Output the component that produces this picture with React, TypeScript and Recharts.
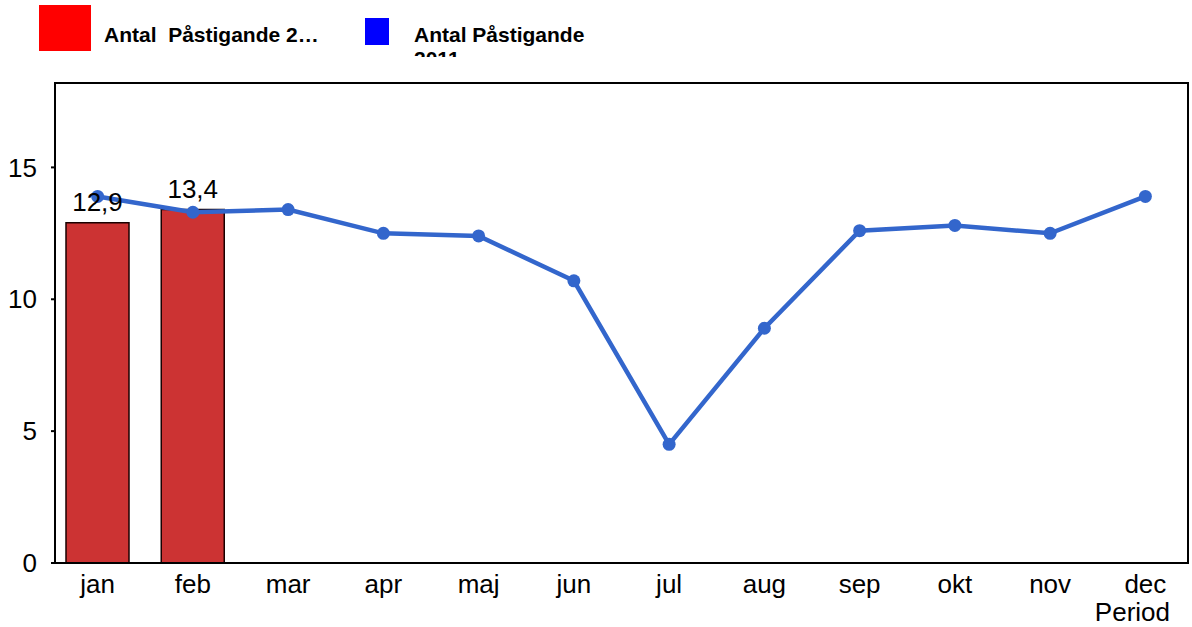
import React from 'react';
import { ComposedChart, Bar, Line, XAxis, YAxis, LabelList, ReferenceArea } from 'recharts';

const months = ['jan', 'feb', 'mar', 'apr', 'maj', 'jun', 'jul', 'aug', 'sep', 'okt', 'nov', 'dec'];
const pastigande2012: (number | null)[] = [12.9, 13.4, null, null, null, null, null, null, null, null, null, null];
const pastigande2011: number[] = [13.9, 13.3, 13.4, 12.5, 12.4, 10.7, 4.5, 8.9, 12.6, 12.8, 12.5, 13.9];
const yTicks = [0, 5, 10, 15];
const yMax = 18.2;
const seriesNames = ['Antal  Påstigande 2…', 'Antal Påstigande 2011'];
const axisTitle = 'Period';

const data = months.map((m, i) => ({ month: m, v2012: pastigande2012[i], v2011: pastigande2011[i] }));

const FONT = '"Liberation Sans", Arial, sans-serif';
const TICK_SIZE = 26;
const fmt = (v: any) => (v == null ? '' : Number(v).toFixed(1).replace('.', ','));

const PeriodLabel = (props: any) => {
  const vb = props.viewBox || {};
  return (
    <text x={vb.x + vb.width - 18} y={vb.y + 58} textAnchor="end" fontSize={TICK_SIZE} fontFamily={FONT} fill="#000">
      {axisTitle}
    </text>
  );
};

export default function App() {
  return (
    <div style={{ position: 'absolute', left: 0, top: 0, width: 1192, height: 627, overflow: 'hidden', background: '#fff', fontFamily: FONT }}>
      {/* Legend */}
      <div style={{ position: 'absolute', left: 39, top: 5, width: 52, height: 46, background: '#FF0000' }} />
      <div style={{ position: 'absolute', left: 104, top: 23, fontSize: 21, fontWeight: 'bold', lineHeight: '23.5px', whiteSpace: 'pre', color: '#000' }}>
        {seriesNames[0]}
      </div>
      <div style={{ position: 'absolute', left: 365, top: 18, width: 24, height: 27, background: '#0000FF' }} />
      <div style={{ position: 'absolute', left: 414, top: 23, width: 185, height: 34, overflow: 'hidden', fontSize: 21, fontWeight: 'bold', lineHeight: '23.5px', color: '#000' }}>
        {seriesNames[1]}
      </div>

      <ComposedChart width={1192} height={627} data={data} margin={{ top: 83, right: 4, bottom: 0, left: 0 }}>
        <XAxis
          dataKey="month"
          height={64}
          padding={{ left: -5, right: -5 }}
          axisLine={{ stroke: '#000', strokeWidth: 2 }}
          tickLine={false}
          tickSize={0}
          tickMargin={12}
          tick={{ fontSize: TICK_SIZE, fill: '#000', fontFamily: FONT }}
          interval={0}
          label={<PeriodLabel />}
        />
        <XAxis xAxisId="top" dataKey="month" orientation="top" height={0} hide />
        <YAxis
          width={55}
          domain={[0, yMax]}
          ticks={yTicks}
          axisLine={{ stroke: '#000', strokeWidth: 2 }}
          tickLine={{ stroke: '#000', strokeWidth: 2 }}
          tickSize={4}
          tickMargin={14}
          tick={{ fontSize: TICK_SIZE, fill: '#000', fontFamily: FONT }}
        />
        <ReferenceArea
          xAxisId="top"
          x1={months[0]}
          x2={months[months.length - 1]}
          y1={0}
          y2={yMax}
          fill="none"
          fillOpacity={0}
          stroke="#000"
          strokeWidth={2}
          ifOverflow="visible"
        />
        <Bar dataKey="v2012" barSize={63} fill="#CC3333" stroke="#1a0000" strokeWidth={1.5} isAnimationActive={false}>
          <LabelList dataKey="v2012" position="top" offset={12} formatter={fmt} fill="#000" fontSize={TICK_SIZE} fontFamily={FONT} />
        </Bar>
        <Line
          dataKey="v2011"
          stroke="#3366CC"
          strokeWidth={4.5}
          dot={{ r: 6.5, fill: '#3366CC', stroke: 'none' }}
          activeDot={false}
          isAnimationActive={false}
        />
      </ComposedChart>
    </div>
  );
}
